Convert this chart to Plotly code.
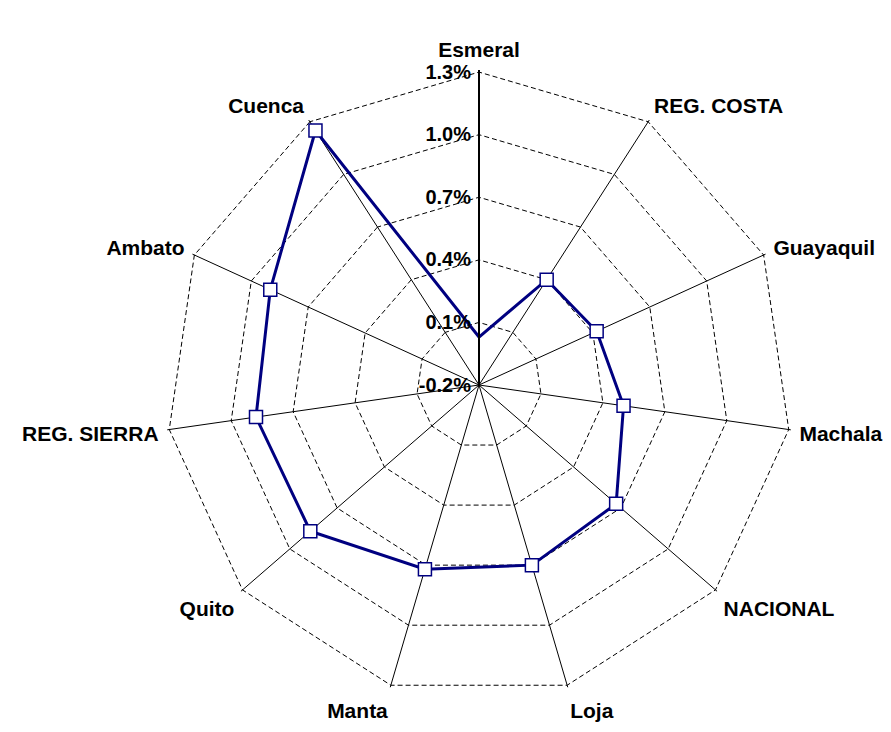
import plotly.graph_objects as go

categories = ["Esmeral", "REG. COSTA", "Guayaquil", "Machala", "NACIONAL", "Loja",
              "Manta", "Quito", "REG. SIERRA", "Ambato", "Cuenca"]
values = [0.03, 0.40, 0.42, 0.50, 0.67, 0.70, 0.72, 0.87, 0.88, 0.90, 1.25]
tick_values = [-0.2, 0.1, 0.4, 0.7, 1.0, 1.3]
tick_labels = ["-0.2%", "0.1%", "0.4%", "0.7%", "1.0%", "1.3%"]

OFF = 8  # page body margin
W, H = 891 - 2 * OFF, 732 - 2 * OFF
cx, cy, R = 479 - OFF, 385 - OFF, 315
FONT = "Liberation Sans, Arial, sans-serif"

fig = go.Figure()
fig.add_trace(go.Scatterpolar(
    r=values + values[:1],
    theta=categories + categories[:1],
    mode="lines+markers",
    line=dict(color="#000080", width=3),
    marker=dict(symbol="square", size=13, color="white",
                line=dict(color="#000080", width=1.5)),
    showlegend=False,
    hoverinfo="skip",
))

fig.update_layout(
    width=W, height=H,
    margin=dict(l=0, r=0, t=0, b=0),
    paper_bgcolor="white",
    plot_bgcolor="white",
    font=dict(family=FONT, color="black", size=20, weight="bold"),
    polar=dict(
        domain=dict(x=[(cx - R) / W, (cx + R) / W],
                    y=[(H - cy - R) / H, (H - cy + R) / H]),
        bgcolor="white",
        gridshape="linear",
        radialaxis=dict(
            range=[-0.2, 1.31],
            tickvals=tick_values,
            ticktext=tick_labels,
            angle=90,
            tickangle=90,
            side="counterclockwise",
            showline=True, linecolor="black", linewidth=2,
            showgrid=True, gridcolor="black", gridwidth=1, griddash="5px,3px",
            ticks="",
            tickfont=dict(size=20, weight="bold", family=FONT),
        ),
        angularaxis=dict(
            direction="clockwise",
            rotation=90,
            showline=False,
            showgrid=True, gridcolor="black", gridwidth=1,
            ticks="outside", ticklen=4, tickcolor="rgba(0,0,0,0)",
            tickfont=dict(size=21, weight="bold", family=FONT),
        ),
    ),
)

fig.write_html("out.html")
